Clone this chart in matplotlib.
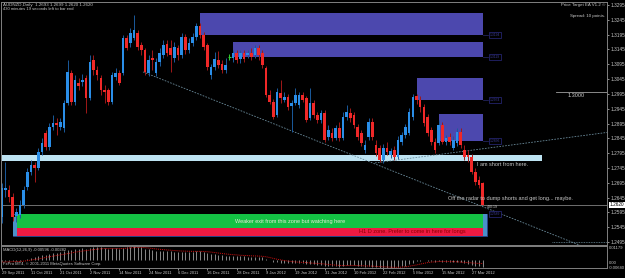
import matplotlib
matplotlib.use('Agg')
import matplotlib.pyplot as plt
from matplotlib.patches import Rectangle
import matplotlib.transforms as mtrans

plt.rcParams['font.family'] = ['Liberation Sans', 'DejaVu Sans']

# AUDNZD daily, 29 Sep 2011 .. 30 Mar 2012
opens = [1.2580, 1.2670, 1.2670, 1.2647, 1.2583, 1.2586, 1.2620, 1.2680, 1.2731, 1.2755,
         1.2745, 1.2799, 1.2863, 1.2816, 1.2883, 1.2897, 1.2883, 1.2880, 1.2964, 1.3065,
         1.2968, 1.3032, 1.3035, 1.3049, 1.2981, 1.3109, 1.3076, 1.3049, 1.3008, 1.3008,
         1.2968, 1.3052, 1.3065, 1.3065, 1.3184, 1.3167, 1.3184, 1.3200, 1.3160, 1.3143,
         1.3065, 1.3116, 1.3065, 1.3103, 1.3126, 1.3163, 1.3150, 1.3116, 1.3150, 1.3126,
         1.3187, 1.3143, 1.3167, 1.3187, 1.3224, 1.3194, 1.3160, 1.3059, 1.3086, 1.3109,
         1.3096, 1.3076, 1.3119, 1.3116, 1.3133, 1.3113, 1.3133, 1.3126, 1.3133, 1.3126,
         1.3150, 1.3133, 1.3082, 1.2991, 1.2968, 1.2924, 1.2998, 1.2974, 1.2984, 1.2954,
         1.2964, 1.2957, 1.2991, 1.2981, 1.2913, 1.2964, 1.2924, 1.2907, 1.2930, 1.2849,
         1.2863, 1.2846, 1.2880, 1.2846, 1.2917, 1.2930, 1.2924, 1.2883, 1.2863, 1.2805,
         1.2849, 1.2900, 1.2822, 1.2812, 1.2772, 1.2812, 1.2788, 1.2805, 1.2782, 1.2832,
         1.2856, 1.2863, 1.2917, 1.2988, 1.2974, 1.2951, 1.2917, 1.2873, 1.2832, 1.2829,
         1.2890, 1.2832, 1.2849, 1.2812, 1.2829, 1.2866, 1.2805, 1.2788, 1.2782, 1.2731,
         1.2704, 1.2693]
highs = [1.2694, 1.2765, 1.2687, 1.2660, 1.2610, 1.2637, 1.2684, 1.2745, 1.2772, 1.2765,
         1.2812, 1.2846, 1.2873, 1.2897, 1.2924, 1.2913, 1.2913, 1.2974, 1.3109, 1.3076,
         1.3059, 1.3049, 1.3062, 1.3059, 1.3126, 1.3126, 1.3089, 1.3059, 1.3025, 1.3015,
         1.3069, 1.3082, 1.3076, 1.3194, 1.3194, 1.3217, 1.3261, 1.3211, 1.3170, 1.3150,
         1.3126, 1.3143, 1.3116, 1.3150, 1.3177, 1.3177, 1.3177, 1.3170, 1.3160, 1.3200,
         1.3197, 1.3184, 1.3200, 1.3234, 1.3234, 1.3204, 1.3167, 1.3096, 1.3136, 1.3140,
         1.3109, 1.3116, 1.3130, 1.3143, 1.3143, 1.3143, 1.3143, 1.3143, 1.3150, 1.3160,
         1.3160, 1.3143, 1.3089, 1.3008, 1.2978, 1.3015, 1.3042, 1.3001, 1.2995, 1.2974,
         1.3015, 1.3001, 1.3001, 1.2988, 1.3015, 1.2974, 1.2934, 1.2940, 1.2940, 1.2890,
         1.2880, 1.2890, 1.2900, 1.2934, 1.2957, 1.2947, 1.2934, 1.2893, 1.2873, 1.2839,
         1.2913, 1.2913, 1.2839, 1.2822, 1.2826, 1.2832, 1.2812, 1.2819, 1.2853, 1.2866,
         1.2893, 1.2947, 1.2995, 1.2995, 1.2988, 1.2961, 1.2927, 1.2883, 1.2846, 1.2907,
         1.2900, 1.2856, 1.2863, 1.2853, 1.2880, 1.2880, 1.2822, 1.2805, 1.2792, 1.2745,
         1.2718, 1.2699]
lows = [1.2559, 1.2647, 1.2630, 1.2566, 1.2563, 1.2576, 1.2610, 1.2670, 1.2721, 1.2697,
        1.2738, 1.2788, 1.2805, 1.2805, 1.2873, 1.2856, 1.2873, 1.2866, 1.2957, 1.2957,
        1.2957, 1.3008, 1.3022, 1.2930, 1.2974, 1.3059, 1.3042, 1.2991, 1.2964, 1.2957,
        1.2961, 1.3042, 1.3025, 1.3059, 1.3143, 1.3153, 1.3177, 1.3143, 1.3126, 1.3059,
        1.3055, 1.3076, 1.3055, 1.3089, 1.3116, 1.3123, 1.3069, 1.3103, 1.3109, 1.3116,
        1.3130, 1.3133, 1.3157, 1.3177, 1.3184, 1.3143, 1.3076, 1.3045, 1.3076, 1.3082,
        1.3065, 1.3065, 1.3109, 1.3103, 1.3099, 1.3099, 1.3103, 1.3116, 1.3109, 1.3116,
        1.3109, 1.3082, 1.2984, 1.2961, 1.2910, 1.2917, 1.2964, 1.2968, 1.2940, 1.2866,
        1.2957, 1.2947, 1.2968, 1.2900, 1.2907, 1.2913, 1.2897, 1.2897, 1.2832, 1.2839,
        1.2836, 1.2839, 1.2836, 1.2839, 1.2907, 1.2900, 1.2880, 1.2839, 1.2819, 1.2795,
        1.2839, 1.2839, 1.2785, 1.2765, 1.2761, 1.2788, 1.2778, 1.2772, 1.2775, 1.2822,
        1.2846, 1.2856, 1.2907, 1.2961, 1.2934, 1.2886, 1.2853, 1.2822, 1.2795, 1.2822,
        1.2826, 1.2822, 1.2822, 1.2805, 1.2819, 1.2812, 1.2772, 1.2765, 1.2724, 1.2687,
        1.2677, 1.2620]
closes = [1.2677, 1.2677, 1.2647, 1.2580, 1.2596, 1.2620, 1.2670, 1.2731, 1.2755, 1.2745,
          1.2799, 1.2829, 1.2816, 1.2883, 1.2897, 1.2890, 1.2900, 1.2964, 1.3069, 1.2968,
          1.3042, 1.3022, 1.3042, 1.2981, 1.3103, 1.3076, 1.3059, 1.3008, 1.3001, 1.2968,
          1.3059, 1.3065, 1.3032, 1.3184, 1.3150, 1.3200, 1.3211, 1.3153, 1.3143, 1.3069,
          1.3109, 1.3109, 1.3103, 1.3133, 1.3160, 1.3133, 1.3126, 1.3153, 1.3126, 1.3187,
          1.3143, 1.3167, 1.3187, 1.3224, 1.3194, 1.3153, 1.3086, 1.3086, 1.3113, 1.3092,
          1.3076, 1.3092, 1.3119, 1.3133, 1.3109, 1.3133, 1.3113, 1.3133, 1.3119, 1.3150,
          1.3126, 1.3092, 1.2991, 1.2968, 1.2917, 1.3001, 1.2981, 1.2984, 1.2951, 1.2964,
          1.2991, 1.2991, 1.2974, 1.2907, 1.2964, 1.2924, 1.2907, 1.2930, 1.2839, 1.2873,
          1.2846, 1.2880, 1.2846, 1.2917, 1.2934, 1.2913, 1.2890, 1.2849, 1.2829, 1.2822,
          1.2900, 1.2849, 1.2795, 1.2772, 1.2812, 1.2799, 1.2802, 1.2782, 1.2839, 1.2856,
          1.2883, 1.2934, 1.2984, 1.2974, 1.2951, 1.2897, 1.2863, 1.2832, 1.2805, 1.2890,
          1.2832, 1.2846, 1.2832, 1.2839, 1.2866, 1.2822, 1.2782, 1.2782, 1.2731, 1.2697,
          1.2687, 1.2620]

macd_main = [-0.0010, -0.0008, -0.0007, -0.0008, -0.0006, -0.0003, 0.0003, 0.0012, 0.0020, 0.0026,
             0.0034, 0.0042, 0.0047, 0.0055, 0.0061, 0.0065, 0.0068, 0.0075, 0.0088, 0.0092,
             0.0097, 0.0099, 0.0101, 0.0099, 0.0106, 0.0110, 0.0112, 0.0110, 0.0106, 0.0100,
             0.0101, 0.0101, 0.0098, 0.0108, 0.0113, 0.0117, 0.0118, 0.0115, 0.0110, 0.0100,
             0.0093, 0.0088, 0.0082, 0.0080, 0.0080, 0.0078, 0.0075, 0.0074, 0.0071, 0.0073,
             0.0071, 0.0071, 0.0072, 0.0076, 0.0076, 0.0072, 0.0063, 0.0055, 0.0051, 0.0046,
             0.0041, 0.0038, 0.0037, 0.0037, 0.0035, 0.0034, 0.0033, 0.0032, 0.0032, 0.0032,
             0.0030, 0.0025, 0.0012, -0.0001, -0.0015, -0.0018, -0.0021, -0.0022, -0.0026, -0.0027,
             -0.0025, -0.0024, -0.0024, -0.0031, -0.0031, -0.0033, -0.0037, -0.0038, -0.0046, -0.0049,
             -0.0052, -0.0052, -0.0054, -0.0049, -0.0044, -0.0042, -0.0042, -0.0047, -0.0052, -0.0055,
             -0.0052, -0.0054, -0.0058, -0.0062, -0.0062, -0.0064, -0.0063, -0.0064, -0.0059, -0.0053,
             -0.0045, -0.0034, -0.0020, -0.0008, -0.0002, 0.0000, -0.0002, -0.0006, -0.0011, -0.0010,
             -0.0012, -0.0013, -0.0014, -0.0015, -0.0014, -0.0017, -0.0024, -0.0029, -0.0038, -0.0046,
             -0.0052, -0.0060]
macd_signal = [-0.0015, -0.0014, -0.0013, -0.0012, -0.0011, -0.0010, -0.0007, -0.0003, 0.0002, 0.0007,
               0.0012, 0.0018, 0.0024, 0.0030, 0.0036, 0.0041, 0.0046, 0.0051, 0.0057, 0.0063,
               0.0069, 0.0074, 0.0079, 0.0083, 0.0087, 0.0091, 0.0095, 0.0098, 0.0100, 0.0100,
               0.0100, 0.0100, 0.0100, 0.0101, 0.0103, 0.0106, 0.0108, 0.0110, 0.0110, 0.0108,
               0.0105, 0.0101, 0.0097, 0.0094, 0.0091, 0.0088, 0.0086, 0.0083, 0.0081, 0.0079,
               0.0078, 0.0077, 0.0076, 0.0076, 0.0076, 0.0075, 0.0073, 0.0070, 0.0066, 0.0062,
               0.0058, 0.0054, 0.0051, 0.0048, 0.0046, 0.0043, 0.0041, 0.0040, 0.0038, 0.0037,
               0.0036, 0.0034, 0.0030, 0.0024, 0.0016, 0.0009, 0.0003, -0.0002, -0.0007, -0.0011,
               -0.0014, -0.0016, -0.0018, -0.0020, -0.0023, -0.0025, -0.0027, -0.0029, -0.0032, -0.0036,
               -0.0039, -0.0041, -0.0044, -0.0045, -0.0045, -0.0044, -0.0044, -0.0045, -0.0046, -0.0048,
               -0.0049, -0.0050, -0.0052, -0.0054, -0.0056, -0.0057, -0.0059, -0.0060, -0.0060, -0.0058,
               -0.0056, -0.0051, -0.0045, -0.0040, -0.0033, -0.0026, -0.0020, -0.0016, -0.0013, -0.0011,
               -0.0010, -0.0010, -0.0011, -0.0012, -0.0013, -0.0015, -0.0018, -0.0020, -0.0022, -0.0025,
               -0.0027, -0.0028]

date_ticks = [0, 8, 16, 24, 32, 40, 48, 56, 64, 72, 80, 88, 96, 104, 112, 120, 128]
date_labels = ['29 Sep 2011', '11 Oct 2011', '21 Oct 2011', '2 Nov 2011', '14 Nov 2011',
               '24 Nov 2011', '6 Dec 2011', '16 Dec 2011', '28 Dec 2011', '9 Jan 2012',
               '19 Jan 2012', '31 Jan 2012', '10 Feb 2012', '22 Feb 2012', '5 Mar 2012',
               '15 Mar 2012', '27 Mar 2012']
price_ticks = [1.3295, 1.3245, 1.3195, 1.3145, 1.3095, 1.3045, 1.2995, 1.2945, 1.2895,
               1.2845, 1.2795, 1.2745, 1.2695, 1.2645, 1.2595, 1.2545, 1.2495]
last_price = 1.2620

# supply / demand boxes: (first bar, last bar, low, high)
supply_boxes = [(54.0, 131.2, 1.3194, 1.3268),
                (63.0, 131.2, 1.3119, 1.3170),
                (113.2, 131.2, 1.2974, 1.3049),
                (119.2, 131.2, 1.2836, 1.2927)]

W, H = 625, 278
fig = plt.figure(figsize=(W / 100, H / 100), dpi=100, facecolor='black')
ax = fig.add_axes([1 / W, 1 - 245 / H, 606 / W, 243 / H], facecolor='black')
mx = fig.add_axes([1 / W, 1 - 268 / H, 606 / W, 22 / H], facecolor='black', sharex=ax)

grey = '#c8c8c8'

# boxes behind the candles
for x0, x1, lo, hi in supply_boxes:
    ax.add_patch(Rectangle((x0, lo), x1 - x0, hi - lo, facecolor='#4c48ae',
                           edgecolor='none', zorder=1))
    ax.plot([x1, x1 + 1.4], [lo, lo], color='#2a2a70', lw=0.5, zorder=1)
    ax.text(134.4, lo, '%.4f' % lo, fontsize=2.4, color='#3a3a90', ha='center', va='center',
            bbox=dict(boxstyle='square,pad=0.25', fc='black', ec='#2a2a80', lw=0.5), zorder=3)

# short-entry band
ax.add_patch(Rectangle((-1, 1.2768), 148.2, 0.0020, facecolor='#bde3f2', edgecolor='none', zorder=1))

# demand zone (green over red)
ax.add_patch(Rectangle((3.0, 1.2517), 129.2, 0.0074, facecolor='none', edgecolor='#3050a0', lw=0.6, zorder=1))
ax.add_patch(Rectangle((3.6, 1.2544), 127.6, 0.0045, facecolor='#14c244', edgecolor='none', zorder=1))
ax.add_patch(Rectangle((3.6, 1.2517), 127.6, 0.0027, facecolor='#ee1a42', edgecolor='none', zorder=1))
ax.add_patch(Rectangle((3.0, 1.2517), 1.1, 0.0063, facecolor='#4a90c8', edgecolor='none', zorder=1))
ax.add_patch(Rectangle((131.1, 1.2517), 1.1, 0.0072, facecolor='#4a90c8', edgecolor='none', zorder=1))
ax.text(134.4, 1.2589, '1.2589', fontsize=2.4, color='#3a3a90', ha='center', va='center',
        bbox=dict(boxstyle='square,pad=0.25', fc='black', ec='#2a2a80', lw=0.5), zorder=3)

# candles
for i in range(len(closes)):
    o, h, l, c = opens[i], highs[i], lows[i], closes[i]
    if c > o:
        body, wick = '#2a8ee8', '#1a5a9c'
    elif c < o:
        body, wick = '#f02828', '#a01818'
    else:
        body, wick = '#30d030', '#30d030'
    ax.vlines(i, l, h, color=wick, lw=0.7, zorder=2)
    if c == o:
        ax.hlines(o, i - 0.45, i + 0.45, color=body, lw=0.8, zorder=2)
    else:
        ax.bar(i, abs(c - o), bottom=min(o, c), width=0.72, color=body, lw=0, zorder=2)

# trend lines and levels
ax.plot([38.5, 160.0], [1.3069, 1.2472], color='#6a8a9a', lw=0.6, ls=(0, (2, 1.5)), zorder=1.5)
ax.plot([101.7, 165.0], [1.2762, 1.2865], color='#6a8a9a', lw=0.6, ls=(0, (2, 1.5)), zorder=1.5)
ax.plot([150.0, 165.0], [1.2495, 1.2495], color='#6a8a9a', lw=0.6, ls=(0, (1, 1)), zorder=1.5)
ax.axhline(last_price, color='#808080', lw=0.6, zorder=1.6)
ax.plot([151.0, 165.0], [1.3000, 1.3000], color='#a0a0a0', lw=0.6)
ax.text(156.6, 1.2988, '1.3000', fontsize=4, color=grey, ha='center', va='center')

# comments
ax.text(129.5, 1.2755, 'I am short from here.', fontsize=4, color=grey, ha='left', va='center')
ax.text(121.6, 1.2643, 'Off the radar to dump shorts and get long... maybe.', fontsize=4,
        color=grey, ha='left', va='center')
ax.text(93.5, 1.2565, 'Weaker exit from this zone but watching here', fontsize=4,
        color='#e8e8d8', ha='right', va='center', zorder=3)
ax.text(97.3, 1.2532, 'H1 D zone. Prefer to come in here for longs', fontsize=4,
        color='#8a0000', ha='left', va='center', zorder=3)
ax.text(133.7, 1.2614, '430:19', fontsize=2.6, color=grey, ha='center', va='center')

ax.set_xlim(-0.2, 164.9)
ax.set_ylim(1.2485, 1.3305)
ax.yaxis.tick_right()
ax.set_yticks(price_ticks)
ax.set_yticklabels(['%.4f' % p for p in price_ticks])
ax.tick_params(axis='y', labelsize=3.4, colors=grey, length=1.5, width=0.5, pad=1)
ax.tick_params(axis='x', bottom=False, labelbottom=False)
for s in ax.spines.values():
    s.set_color('#808080')
    s.set_linewidth(0.7)

tr = mtrans.blended_transform_factory(ax.transAxes, ax.transData)
ax.text(1.004, last_price, '1.2620', transform=tr, fontsize=3.4, color='black', ha='left',
        va='center', bbox=dict(boxstyle='square,pad=0.15', fc='white', ec='none'), clip_on=False)

# MACD panel
mx.vlines(range(len(macd_main)), 0, macd_main, color='#c0c0c0', lw=0.5)
mx.plot(range(len(macd_signal)), macd_signal, color='#d01010', lw=0.7, ls=(0, (1, 1)))
mx.set_ylim(-0.0066, 0.0122)
mx.set_yticks([])
mx.set_xticks(date_ticks)
mx.set_xticklabels(date_labels, ha='left')
mx.tick_params(axis='x', labelsize=2.9, colors=grey, length=1.5, width=0.5, pad=1)
for s in mx.spines.values():
    s.set_color('#808080')
    s.set_linewidth(0.7)

def ftext(x, y, s, **kw):
    fig.text(x / W, 1 - y / H, s, va='center', **kw)

ftext(3, 5, 'AUDNZD,Daily  1.2693 1.2699 1.2620 1.2620', fontsize=3.2, color=grey)
ftext(3, 9.5, '430 minutes 19 seconds left to bar end', fontsize=3.0, color=grey)
ftext(605, 5, 'Price Target EA V1.2 \u00a9', fontsize=3.2, color=grey, ha='right')
ftext(605, 16, 'Spread: 10 points.', fontsize=3.2, color=grey, ha='right')
ftext(3, 249.5, 'MACD(12,26,9) -0.00596 -0.00282', fontsize=3.0, color=grey)
ftext(3, 264.5, 'FxPro MT4, \u00a9 2001-2011 MetaQuotes Software Corp.', fontsize=3.0, color=grey)
ftext(609, 248, '0.01179', fontsize=3.0, color=grey)
ftext(609, 263, '0.00', fontsize=3.0, color=grey)
ftext(609, 268, '-0.00640', fontsize=3.0, color=grey)

fig.savefig('out.png', dpi=100, facecolor='black')
